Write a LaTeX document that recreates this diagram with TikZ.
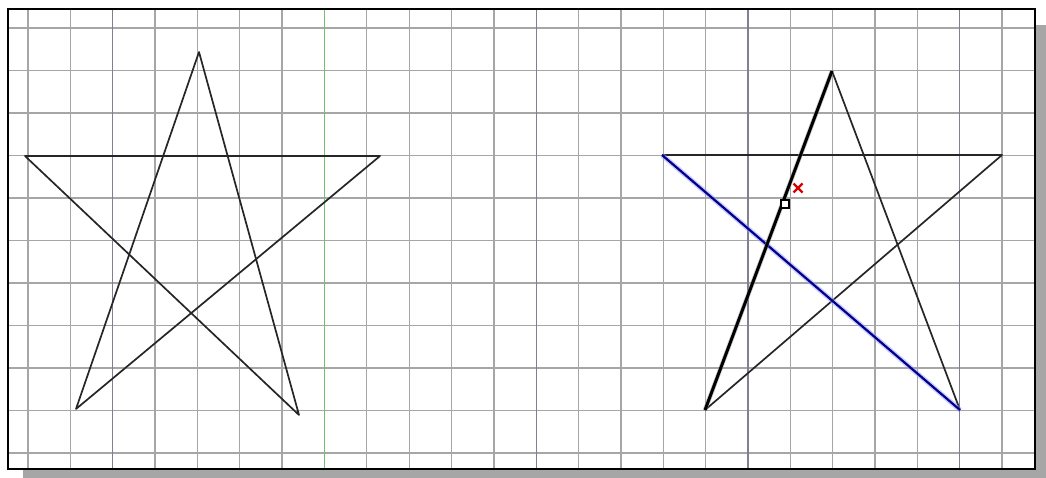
\documentclass[tikz,border=0pt]{standalone}
\usepackage{tikz}

\begin{document}
\begin{tikzpicture}[x=1pt, y=-1pt,
    gridline/.style={line width=1.3pt, color=black!35},
    majorline/.style={line width=1.4pt, color=blue!15!black!50},
    starline/.style={line width=1.7pt, color=black!85},
    pick/.style={line width=3pt, color=black},
    hilite/.style={line width=2.2pt, color=blue!55!black}]
\useasboundingbox (0,0) rectangle (1046,478);
% shadow and sheet
\fill[black!35] (23,25) rectangle (1046,478);
\fill[white] (8,9) rectangle (1035,469);
% grid
\foreach \i in {0,...,23}
    \draw[gridline] (28+42.35*\i, 9) -- (28+42.35*\i, 469);
\foreach \j in {0,...,10}
    \draw[gridline] (8, 28+42.5*\j) -- (1035, 28+42.5*\j);
\foreach \i in {2,12,17,22}
    \draw[majorline] (28+42.35*\i, 9) -- (28+42.35*\i, 469);
\draw[line width=1.4pt, green!55!black!55] (324.5,9) -- (324.5,469);
\draw[line width=1.8pt] (8,9) rectangle (1035,469);

% left star
\coordinate (ltop)   at (199,52);
\coordinate (lleft)  at (25,156);
\coordinate (lright) at (380,156);
\coordinate (lbl)    at (76,409);
\coordinate (lbr)    at (299,415);
\draw[starline, line join=round] (lleft) -- (lright) -- (lbl) -- (ltop) -- (lbr) -- cycle;

% right star
\coordinate (rtop)   at (832,71);
\coordinate (rleft)  at (662,155);
\coordinate (rright) at (1002,155);
\coordinate (rbl)    at (705,410);
\coordinate (rbr)    at (960,410);
\draw[starline, line join=round] (rleft) -- (rright) -- (rbl);
\draw[starline] (rtop) -- (rbr);
\draw[line width=5pt, blue!40, opacity=0.5] (rleft) -- (rbr);
\draw[hilite] (rleft) -- (rbr);
\draw[line width=4.5pt, black!40, opacity=0.5] (rbl) -- (rtop);
\draw[pick] (rbl) -- (rtop);

% cursor marks
\draw[line width=1.2pt, fill=white] (781,200) rectangle (789,208);
\draw[line width=2.4pt, red!85!black] (793.5,183.5) -- (802.5,192.5)
                                      (793.5,192.5) -- (802.5,183.5);
\end{tikzpicture}
\end{document}
